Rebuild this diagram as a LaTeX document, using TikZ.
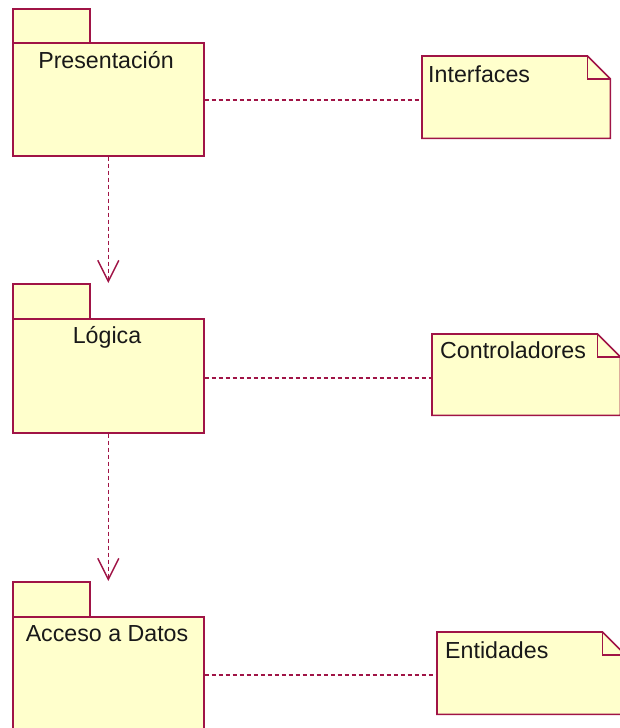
\documentclass[tikz,border=0pt]{standalone}
\usepackage{fontspec}
\setmainfont{Liberation Sans}
\usetikzlibrary{arrows.meta}
\definecolor{umlline}{RGB}{160,20,70}
\definecolor{umlfill}{RGB}{255,255,204}
\begin{document}
\begin{tikzpicture}[x=1pt,y=-1pt,
  box/.style={draw=umlline, fill=umlfill, line width=1.6pt, rectangle, inner sep=0pt, anchor=north west},
  area/.style={rectangle, inner sep=0pt, anchor=north west},
  notepath/.style={draw=umlline, fill=umlfill, line width=1.6pt},
  lbl/.style={font=\fontsize{23.2}{27}\selectfont, anchor=base, inner sep=0pt, text=black!90},
  dep/.style={draw=umlline, line width=1.5pt, dash pattern=on 4pt off 3pt},
  deparrow/.style={dep, -{Straight Barb[length=21pt,width=21pt,line width=1.5pt]}}
]
\useasboundingbox (0,0) rectangle (619,728);

% packages
\node[box, minimum width=77pt, minimum height=34pt] (tab1) at (12,8) {};
\node[box, minimum width=191pt, minimum height=113pt] (b1) at (12,42) {};
\node[lbl] (t1) at (106,68) {Presentación};

\node[box, minimum width=77pt, minimum height=35pt] (tab2) at (12,283) {};
\node[box, minimum width=191pt, minimum height=114pt] (b2) at (12,318) {};
\node[lbl] (t2) at (107,343) {Lógica};

\node[box, minimum width=77pt, minimum height=35pt] (tab3) at (12,581) {};
\node[box, minimum width=191pt, minimum height=116pt] (b3) at (12,616) {};
\node[lbl] (t3) at (107,641) {Acceso a Datos};

% notes
\node[area, minimum width=188pt, minimum height=82pt] (n1) at (422,56) {};
\node[area, minimum width=188pt, minimum height=81pt] (n2) at (432,334) {};
\node[area, minimum width=188pt, minimum height=82pt] (n3) at (437,632) {};
\foreach \n in {n1,n2,n3}{
  \draw[notepath] (\n.north west) -- ([xshift=-23pt]\n.north east) -- ([yshift=-23pt]\n.north east) -- (\n.south east) -- (\n.south west) -- cycle;
  \draw[notepath, fill=none] ([xshift=-23pt]\n.north east) |- ([yshift=-23pt]\n.north east);
}
\node[lbl, anchor=base west] (nt1) at (428,82) {Interfaces};
\node[lbl, anchor=base west] (nt2) at (440,358) {Controladores};
\node[lbl, anchor=base west] (nt3) at (445,658) {Entidades};

% connectors
\draw[dep] ([yshift=-0.5pt]b1.east) -- ([yshift=-0.5pt]b1.east -| n1.west);
\draw[dep] ([yshift=-2pt]b2.east) -- ([yshift=-2pt]b2.east -| n2.west);
\draw[dep] (b3.east) -- (b3.east -| n3.west);
\draw[deparrow] (b1.south) -- (b1.south |- tab2.north);
\draw[deparrow] (b2.south) -- (b2.south |- tab3.north);
\end{tikzpicture}
\end{document}
